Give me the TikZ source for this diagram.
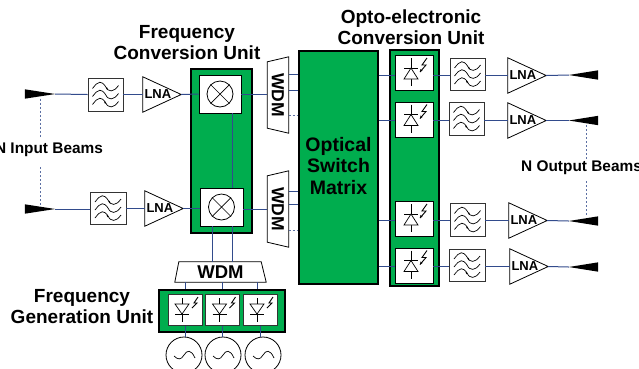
\documentclass[tikz,border=0pt]{standalone}
\usepackage{fontspec}
\setmainfont{Liberation Sans}
\definecolor{gr}{RGB}{0,173,78}
\definecolor{wire}{RGB}{50,75,140}
\tikzset{
 x=1pt,y=-1pt,
 wire/.style={draw=wire,line width=1pt},
 beamdash/.style={draw=wire!80,line width=1pt,dash pattern=on 2pt off 2pt},
 greenbox/.style={draw=black,fill=gr,line width=1.7pt,inner sep=0pt},
 whitebox/.style={draw=black!80,fill=white,line width=0.9pt,inner sep=0pt},
 frame/.style={inner sep=0pt},
 icon/.style={draw=black,line width=0.7pt},
 lbl/.style={font=\bfseries\fontsize{19}{21}\selectfont,align=center,inner sep=0pt},
 small/.style={font=\bfseries\fontsize{15.4}{17}\selectfont,inner sep=0pt},
 lnatext/.style={font=\bfseries\fontsize{13}{15}\selectfont,inner sep=0pt},
 wdmtext/.style={font=\bfseries\fontsize{17.5}{20}\selectfont,inner sep=0pt}
}
\newcommand{\filt}[5]{%
 \node[whitebox,minimum width=#4pt,minimum height=#5pt] (#1) at (#2,#3) {};
 \begin{scope}[shift={(#1.center)}]
 \foreach \d in {-8,0,8}{
  \draw[icon] (-13,\d+2) .. controls (-7,\d-6) and (-4,\d-6) .. (0,\d) .. controls (3,\d+6) and (8,\d+6) .. (13,\d-1);}
 \draw[icon,line width=1pt] (1,-7) -- (2,-5) (-1,7) -- (0,9);
 \end{scope}}
\newcommand{\lna}[3]{%
 \node[frame,minimum width=38pt,minimum height=35pt] (#1) at (#2,#3) {};
 \draw[draw=black,fill=white,line width=0.8pt] (#1.north west) -- (#1.east) -- (#1.south west) -- cycle;
 \node[lnatext,anchor=west] (#1t) at ([xshift=1.5pt]#1.west) {LNA};}
\newcommand{\mixer}[5]{%
 \node[whitebox,draw=black,minimum width=#4pt,minimum height=#5pt] (#1) at (#2,#3) {};
 \node[draw=black,line width=0.8pt,circle,minimum size=26pt,inner sep=0pt] (#1c) at (#1.center) {};
 \draw[icon] (#1c.north west) -- (#1c.south east) (#1c.north east) -- (#1c.south west);}
\newcommand{\pd}[3]{%
 \node[whitebox,draw=black,minimum width=38pt,minimum height=35pt] (#1) at (#2,#3) {};
 \begin{scope}[shift={(#1.center)}]
 \draw[icon] (-3,-15) -- (-3,13) (-10,-5) -- (4,-5);
 \draw[icon,fill=white] (-3,-5) -- (4,6) -- (-10,6) -- cycle;
 \draw[icon,line width=0.9pt] (13,-15) -- (8,-8) -- (12,-8) -- (6,-1);
 \fill (6,-1) -- (6.5,-4) -- (8.5,-2.5) -- cycle;
 \end{scope}}
\newcommand{\led}[3]{%
 \node[whitebox,minimum width=34pt,minimum height=31pt] (#1) at (#2,#3) {};
 \begin{scope}[shift={(#1.center)}]
 \draw[icon] (-3,-12) -- (-3,12) (-10,4) -- (4,4);
 \draw[icon,fill=white] (-3,4) -- (4,-6) -- (-10,-6) -- cycle;
 \draw[icon,line width=0.9pt] (13,-13) -- (9,-7) -- (12,-7) -- (7,-2);
 \end{scope}}
\newcommand{\beamin}[3]{%
 \node[frame,minimum width=30pt,minimum height=9pt] (#1) at (#2,#3) {};
 \fill (#1.north west) -- (#1.east) -- (#1.south west) -- cycle;}
\newcommand{\beamout}[3]{%
 \node[frame,minimum width=29pt,minimum height=9pt] (#1) at (#2,#3) {};
 \fill (#1.north east) -- (#1.west) -- (#1.south east) -- cycle;}
\newcommand{\sine}[3]{%
 \node[draw=black,circle,line width=0.8pt,minimum size=36pt,inner sep=0pt] (#1) at (#2,#3) {};
 \begin{scope}[shift={(#1.center)}]
 \draw[icon] (-10,1) .. controls (-6,5) and (-3,5) .. (0,0) .. controls (3,-5) and (7,-6) .. (11,3);
 \end{scope}}
\begin{document}
\begin{tikzpicture}
\useasboundingbox (0,0) rectangle (639,368);
\clip (0,0) rectangle (639,368);
% units
\node[greenbox,minimum width=61pt,minimum height=164pt] (fcu) at (221.5,151) {};
\node[greenbox,minimum width=79pt,minimum height=233pt] (osm) at (338.5,167.5) {};
\node[greenbox,minimum width=49pt,minimum height=236pt] (oecu) at (414.5,168) {};
\node[greenbox,minimum width=126pt,minimum height=42pt] (fgu) at (222,311) {};
% inputs
\beamin{bi1}{40}{94}
\beamin{bi2}{40}{209}
\filt{fi1}{105.5}{94.5}{35}{33}
\filt{fi2}{108}{208}{36}{32}
\lna{li1}{162}{94.5}
\lna{li2}{164}{208.5}
\mixer{m1}{220}{94}{42}{38}
\mixer{m2}{221.5}{207}{43}{38}
% WDM vertical
\node[frame,minimum width=21pt,minimum height=66pt] (w1) at (278,95) {};
\draw[draw=black,fill=white,line width=0.8pt] (w1.north west) -- ([yshift=5pt]w1.north east) -- ([yshift=-5pt]w1.south east) -- (w1.south west) -- cycle;
\node[wdmtext,rotate=-90] (w1t) at (278,95) {WDM};
\node[frame,minimum width=21pt,minimum height=66pt] (w2) at (278,209) {};
\draw[draw=black,fill=white,line width=0.8pt] (w2.north west) -- ([yshift=5pt]w2.north east) -- ([yshift=-5pt]w2.south east) -- (w2.south west) -- cycle;
\node[wdmtext,rotate=-90] (w2t) at (278,209) {WDM};
% WDM horizontal
\node[frame,minimum width=91pt,minimum height=20pt] (w3) at (220.5,272) {};
\draw[draw=black,fill=white,line width=0.8pt] ([xshift=4pt]w3.north west) -- ([xshift=-5pt]w3.north east) -- (w3.south east) -- (w3.south west) -- cycle;
\node[wdmtext,font=\bfseries\fontsize{18.5}{20}\selectfont] (w3t) at (220.5,272) {WDM};
% FGU
\led{g1}{185}{310}
\led{g2}{222.5}{310}
\led{g3}{260}{310}
\sine{s1}{184}{355}
\sine{s2}{223}{355}
\sine{s3}{263}{355}
% OECU
\pd{p1}{414}{73}
\pd{p2}{414}{119.5}
\pd{p3}{414}{219}
\pd{p4}{414}{265.5}
\filt{fo1}{467.5}{74}{35}{32}
\filt{fo2}{466.5}{118.5}{35}{33}
\filt{fo3}{467.5}{219.5}{35}{33}
\filt{fo4}{467}{265}{36}{32}
\lna{lo1}{527}{75.5}
\lna{lo2}{527}{120.5}
\lna{lo3}{528}{220.5}
\lna{lo4}{529}{266.5}
\beamout{bo1}{583.5}{75}
\beamout{bo2}{583.5}{120.5}
\beamout{bo3}{583.5}{221}
\beamout{bo4}{583.5}{267}
% connectors
\draw[wire] (bi1.east) -- (fi1.west);
\draw[wire] (fi1.east) -- (li1.west);
\draw[wire] (li1.east) -- (m1.west);
\draw[wire] (m1.east) -- (m1.east -| w1.west);
\draw[wire] (bi2.east) -- (bi2.east -| fi2.west);
\draw[wire] (fi2.east |- li2.west) -- (li2.west);
\draw[wire] (li2.east) -- (li2.east -| m2.west);
\draw[wire] (m2.east |- 0,209) -- (w2.west |- 0,209);
\draw[wire] (m1.south -| 232,0) -- (m2.north -| 232,0);
\draw[wire] (m2.south -| 212,0) -- (w3.north -| 212,0);
\draw[wire] (m2.south -| 232,0) -- (w3.north -| 232,0);
\foreach \xx in {185,222,257}{\draw[wire] (w3.south -| \xx,0) -- (fgu.north -| \xx,0);}
\foreach \a/\b in {g1/s1,g2/s2,g3/s3}{\draw[wire] (\a.south) -- (\a.south |- \b.north);}
\foreach \yy in {74,90}{\draw[wire] (w1.east |- 0,\yy) -- (osm.west |- 0,\yy);}
\draw[beamdash] (w1.east |- 0,115) -- (osm.west |- 0,115);
\foreach \yy in {191,204}{\draw[wire] (w2.east |- 0,\yy) -- (osm.west |- 0,\yy);}
\draw[beamdash] (w2.east |- 0,230) -- (osm.west |- 0,230);
\foreach \p/\f/\l/\b/\yy in {p1/fo1/lo1/bo1/75,p2/fo2/lo2/bo2/120,p3/fo3/lo3/bo3/220,p4/fo4/lo4/bo4/266}{
 \draw[wire] (osm.east |- 0,\yy) -- (\p.west |- 0,\yy);
 \draw[wire] (\p.east |- 0,\yy) -- (\f.west |- 0,\yy);
 \draw[wire] (\f.east |- 0,\yy) -- (\l.west |- 0,\yy);
 \draw[wire] (\l.east) -- (\b.west);}
% labels
\node[small] (ti) at (49,150) {N Input Beams};
\node[small] (to) at (581.5,168) {N Output Beams};
\coordinate (d0) at (40,98.5); \coordinate (d1) at (40,137); \coordinate (d2) at (40,167); \coordinate (d3) at (40,205);
\coordinate (e0) at (586,125); \coordinate (e1) at (586,160); \coordinate (e2) at (586,181); \coordinate (e3) at (586,216);
\draw[beamdash] (d0) -- (d1);
\draw[beamdash] (d2) -- (d3);
\draw[beamdash] (e0) -- (e1);
\draw[beamdash] (e2) -- (e3);
\node[lbl] (tf) at (187,42.5) {Frequency\\Conversion Unit};
\node[lbl] (toe) at (411,27.5) {Opto-electronic\\Conversion Unit};
\node[lbl,font=\bfseries\fontsize{19.5}{21.5}\selectfont] (tm) at (osm.center |- 0,166) {Optical\\Switch\\Matrix};
\node[lbl] (tg) at (82,306.5) {Frequency\\Generation Unit};
\end{tikzpicture}
\end{document}
